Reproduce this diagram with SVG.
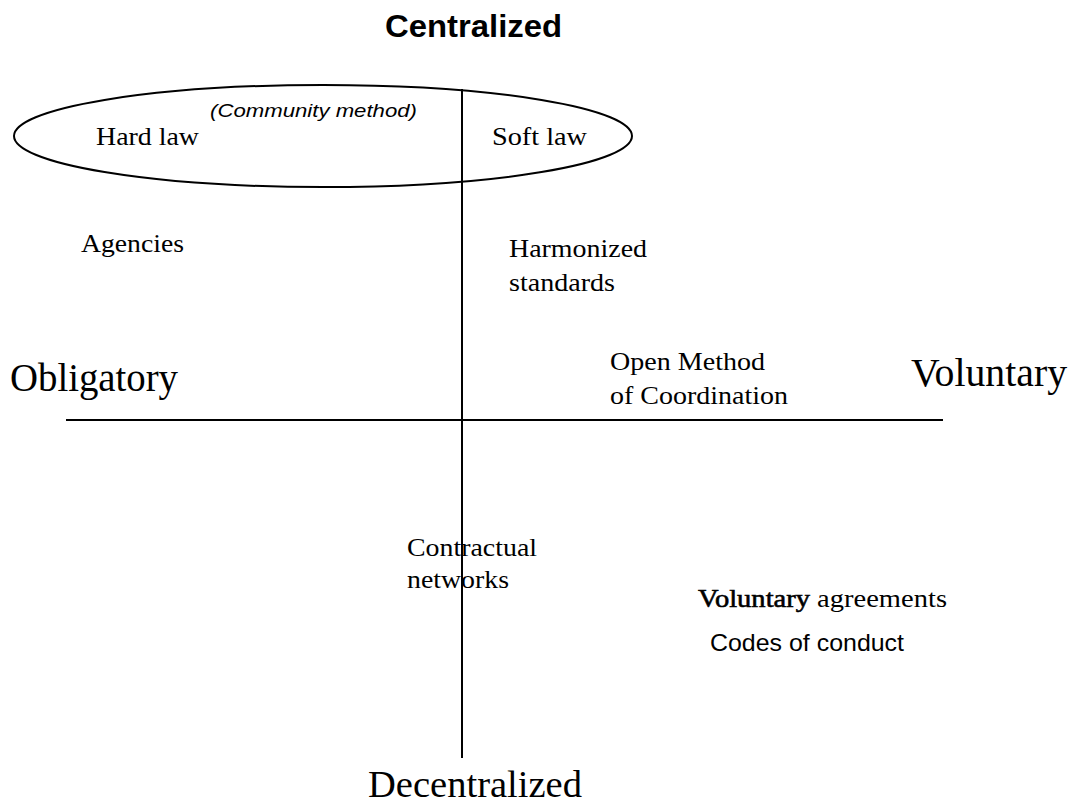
<svg xmlns="http://www.w3.org/2000/svg" width="1071" height="804" viewBox="0 0 1071 804">
<style>
.serif{font-family:"Liberation Serif","Times New Roman",serif;fill:#000}
.sans{font-family:"Liberation Sans",Arial,sans-serif;fill:#000}
.ln{stroke:#000;stroke-width:2;fill:none}
</style>
<rect width="1071" height="804" fill="#fff"/>
<g id="connectors">
<line class="ln" x1="462" y1="89" x2="462" y2="758"/>
<line class="ln" x1="66" y1="420" x2="943" y2="420"/>
</g>
<g id="axis-centralized"><text class="sans" x="385" y="37" font-size="32" font-weight="bold" textLength="177" lengthAdjust="spacingAndGlyphs">Centralized</text></g>
<g id="axis-decentralized"><text class="serif" x="368" y="797" font-size="37" textLength="214" lengthAdjust="spacingAndGlyphs">Decentralized</text></g>
<g id="axis-obligatory"><text class="serif" x="10" y="391" font-size="40" textLength="168" lengthAdjust="spacingAndGlyphs">Obligatory</text></g>
<g id="axis-voluntary"><text class="serif" x="911" y="386" font-size="40" textLength="156" lengthAdjust="spacingAndGlyphs">Voluntary</text></g>
<g id="community-method">
<ellipse class="ln" cx="323" cy="136" rx="309" ry="51"/>
<text class="sans" x="210" y="117" font-size="19" font-style="italic" textLength="207" lengthAdjust="spacingAndGlyphs">(Community method)</text>
</g>
<g id="hard-law"><text class="serif" x="96" y="145" font-size="26" textLength="103" lengthAdjust="spacingAndGlyphs">Hard law</text></g>
<g id="soft-law"><text class="serif" x="492" y="145" font-size="26" textLength="95" lengthAdjust="spacingAndGlyphs">Soft law</text></g>
<g id="agencies"><text class="serif" x="81" y="252" font-size="26" textLength="103" lengthAdjust="spacingAndGlyphs">Agencies</text></g>
<g id="harmonized-standards">
<text class="serif" x="509" y="257" font-size="26" textLength="138" lengthAdjust="spacingAndGlyphs">Harmonized</text>
<text class="serif" x="509" y="291" font-size="26" textLength="106" lengthAdjust="spacingAndGlyphs">standards</text>
</g>
<g id="omc">
<text class="serif" x="610" y="370" font-size="26" textLength="155" lengthAdjust="spacingAndGlyphs">Open Method</text>
<text class="serif" x="610" y="404" font-size="26" textLength="178" lengthAdjust="spacingAndGlyphs">of Coordination</text>
</g>
<g id="contractual-networks">
<text class="serif" x="407" y="556" font-size="26" textLength="130" lengthAdjust="spacingAndGlyphs">Contractual</text>
<text class="serif" x="407" y="588" font-size="26" textLength="102" lengthAdjust="spacingAndGlyphs">networks</text>
</g>
<g id="voluntary-agreements"><text class="serif" x="698" y="607" font-size="26" textLength="249" lengthAdjust="spacingAndGlyphs"><tspan stroke="#000" stroke-width="0.6">Voluntary</tspan> agreements</text></g>
<g id="codes-of-conduct"><text class="sans" x="710" y="651" font-size="24" textLength="194" lengthAdjust="spacingAndGlyphs">Codes of conduct</text></g>
</svg>
